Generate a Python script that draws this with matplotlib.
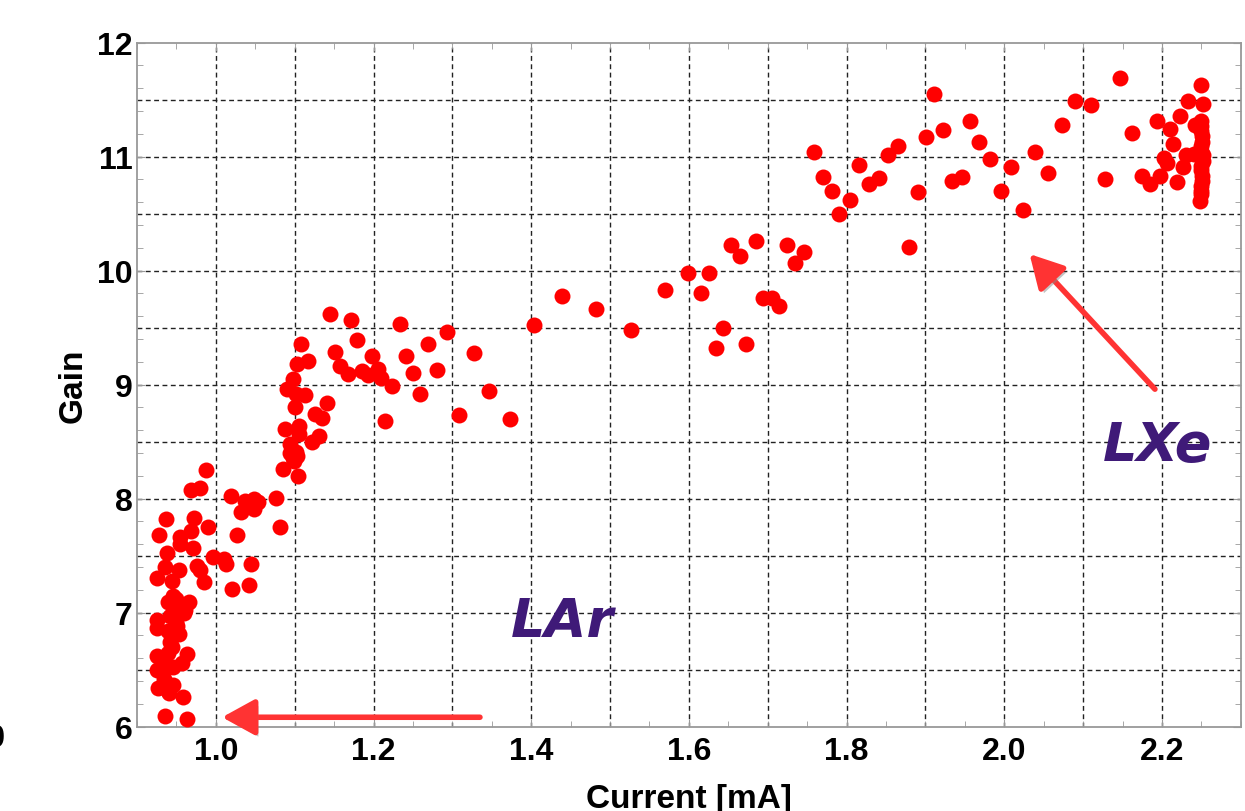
import matplotlib
matplotlib.use('Agg')
import matplotlib.pyplot as plt
import matplotlib.patheffects as pe
import numpy as np

# low current part (LAr-like region)
cur_low = [0.935, 0.963, 0.958, 0.927, 0.940, 0.946, 0.934, 0.925, 0.938, 0.946,
           0.925, 0.940, 0.963, 0.957, 0.942, 0.953, 0.940, 0.951, 0.925, 0.926,
           0.942, 0.953, 0.961, 0.940, 0.966, 0.946, 0.944, 0.926, 0.936, 0.953,
           0.980, 0.985, 0.976, 0.997, 1.010, 1.013, 0.938, 0.971, 0.955, 0.954,
           0.968, 0.928, 0.990, 0.972, 0.937, 1.045, 1.021, 1.042, 1.027, 1.032,
           1.048, 1.019, 1.037, 1.048, 1.054, 1.076, 1.081, 0.968, 0.980, 0.987,
           0.950, 0.945, 0.949, 0.960, 0.941, 0.932]
gain_low = [6.09, 6.07, 6.26, 6.34, 6.31, 6.37, 6.42, 6.50, 6.52, 6.52,
            6.62, 6.65, 6.64, 6.56, 6.74, 6.81, 6.84, 6.88, 6.87, 6.94,
            6.97, 7.06, 7.02, 7.09, 7.09, 7.15, 7.28, 7.30, 7.40, 7.37,
            7.37, 7.27, 7.41, 7.49, 7.47, 7.43, 7.52, 7.57, 7.60, 7.66,
            7.72, 7.68, 7.75, 7.83, 7.82, 7.43, 7.21, 7.24, 7.68, 7.88,
            7.91, 8.02, 7.98, 8.00, 7.97, 8.01, 7.75, 8.08, 8.09, 8.25,
            7.12, 6.70, 6.92, 7.00, 6.30, 6.58]

# middle part
cur_mid = [1.094, 1.103, 1.099, 1.085, 1.104, 1.145, 1.172, 1.233, 1.293, 1.108,
           1.179, 1.269, 1.327, 1.151, 1.117, 1.103, 1.198, 1.241, 1.281, 1.250,
           1.157, 1.168, 1.185, 1.193, 1.206, 1.210, 1.098, 1.224, 1.259, 1.347,
           1.090, 1.113, 1.102, 1.101, 1.141, 1.126, 1.135, 1.308, 1.373, 1.215,
           1.088, 1.105, 1.105, 1.131, 1.122, 1.094, 1.102, 1.098]
gain_mid = [8.40, 8.37, 8.33, 8.26, 8.20, 9.62, 9.57, 9.53, 9.46, 9.36,
            9.39, 9.36, 9.28, 9.29, 9.21, 9.18, 9.25, 9.25, 9.13, 9.10,
            9.16, 9.09, 9.12, 9.08, 9.14, 9.06, 9.05, 8.99, 8.92, 8.94,
            8.96, 8.91, 8.92, 8.80, 8.84, 8.74, 8.71, 8.73, 8.70, 8.68,
            8.61, 8.64, 8.57, 8.55, 8.50, 8.48, 8.41, 8.36]

# high current part (LXe-like region)
cur_high = [1.404, 1.439, 1.482, 1.527, 1.570, 1.599, 1.626, 1.615, 1.643, 1.634,
            1.673, 1.653, 1.665, 1.685, 1.724, 1.746, 1.735, 1.694, 1.705, 1.714,
            1.758, 1.770, 1.782, 1.790, 1.804, 1.816, 1.828, 1.841, 1.852, 1.865,
            1.879, 1.890, 1.901, 1.911, 1.922, 1.934, 1.946, 1.957, 1.968, 1.982,
            1.996, 2.009, 2.024, 2.039, 2.056, 2.073, 2.090, 2.110, 2.128, 2.147,
            2.162, 2.175, 2.185, 2.198, 2.202, 2.206, 2.193, 2.210, 2.214, 2.223,
            2.233, 2.219, 2.227, 2.231, 2.242, 2.240]
gain_high = [9.52, 9.78, 9.66, 9.48, 9.83, 9.98, 9.98, 9.80, 9.50, 9.32,
             9.36, 10.22, 10.13, 10.26, 10.22, 10.16, 10.07, 9.76, 9.76, 9.69,
             11.04, 10.82, 10.70, 10.50, 10.62, 10.93, 10.76, 10.81, 11.01, 11.09,
             10.21, 10.69, 11.17, 11.55, 11.23, 10.79, 10.82, 11.31, 11.13, 10.98,
             10.70, 10.91, 10.53, 11.04, 10.86, 11.28, 11.49, 11.45, 10.80, 11.69,
             11.21, 10.83, 10.76, 10.83, 10.99, 10.94, 11.31, 11.24, 11.11, 11.36,
             11.49, 10.78, 10.91, 11.01, 11.28, 11.02]

# max current column
cur_max = [2.250, 2.252, 2.250, 2.249, 2.251, 2.250, 2.252, 2.250, 2.251, 2.250,
           2.250, 2.248, 2.249, 2.251, 2.250, 2.252, 2.250, 2.251, 2.249]
gain_max = [11.63, 11.46, 11.31, 11.27, 11.18, 11.09, 11.01, 10.92, 10.83, 10.74,
            10.67, 10.61, 11.22, 11.13, 11.05, 10.96, 10.88, 10.79, 10.70]

current = cur_low + cur_mid + cur_high + cur_max
gain = gain_low + gain_mid + gain_high + gain_max

plt.rcParams['font.family'] = ['Liberation Sans', 'DejaVu Sans']
plt.rcParams['font.weight'] = 'bold'

fig = plt.figure(figsize=(12.45, 8.12), dpi=100)
ax = fig.add_axes([0.110, 0.1038, 0.8867, 0.8426])

ax.set_xlim(0.9, 2.3)
ax.set_ylim(6, 12)

# dashed grid (x every 0.1, y every 0.5)
for gx in np.arange(1.0, 2.25, 0.1):
    ax.axvline(gx, color='#222222', lw=1.0, ls=(0, (3.5, 2.5)), zorder=1)
for gy in np.arange(6.5, 11.6, 0.5):
    ax.axhline(gy, color='#222222', lw=1.0, ls=(0, (3.5, 2.5)), zorder=1)

ax.plot(current, gain, 'o', color='#ff0000', ms=11.5, mew=0, zorder=3)

ax.set_xticks(np.arange(1.0, 2.21, 0.2))
ax.set_xticklabels(['1.0', '1.2', '1.4', '1.6', '1.8', '2.0', '2.2'])
ax.set_xticks(np.arange(0.9, 2.31, 0.05), minor=True)
ax.set_yticks(range(6, 13))
ax.set_yticks(np.arange(6, 12.01, 0.2), minor=True)
ax.tick_params(which='both', direction='in', top=True, right=True, color='#999999')
ax.tick_params(which='major', length=6, labelsize=23)
ax.tick_params(which='minor', length=4)
ax.tick_params(axis='x', pad=7)
ax.tick_params(axis='y', pad=3)
for s in ax.spines.values():
    s.set_color('#999999')
    s.set_linewidth(1.3)

ax.set_xlabel('Current [mA]', fontsize=24, fontweight='bold')
ax.set_ylabel('Gain', fontsize=24, fontweight='bold')
ax.xaxis.set_label_coords(0.5, -0.082)
ax.yaxis.set_label_coords(-0.044, 0.5)

shadow = [pe.SimplePatchShadow(offset=(2, -3), shadow_rgbFace='#888888', alpha=0.5), pe.Normal()]
arrow_style = '-|>,head_length=1.0,head_width=0.55'
ax.annotate('', xy=(1.008, 6.083), xytext=(1.335, 6.083),
            arrowprops=dict(arrowstyle=arrow_style, color='#ff3333',
                            lw=4, mutation_scale=20, shrinkA=0, shrinkB=0, path_effects=shadow),
            zorder=4)
ax.annotate('', xy=(2.032, 10.145), xytext=(2.191, 8.96),
            arrowprops=dict(arrowstyle=arrow_style, color='#ff3333',
                            lw=4, mutation_scale=20, shrinkA=0, shrinkB=0, path_effects=shadow),
            zorder=4)

ax.text(1.44, 6.93, 'LAr', fontsize=39, color='#3f1a78', fontweight='bold', style='italic',
        family='DejaVu Sans', ha='center', va='center', zorder=5)
ax.text(2.195, 8.47, 'LXe', fontsize=39, color='#3f1a78', fontweight='bold', style='italic',
        family='DejaVu Sans', ha='center', va='center', zorder=5)

fig.text(0.004, 0.09, '0', fontsize=22, fontweight='bold', ha='right', va='center')

fig.savefig('out.png', dpi=100)
